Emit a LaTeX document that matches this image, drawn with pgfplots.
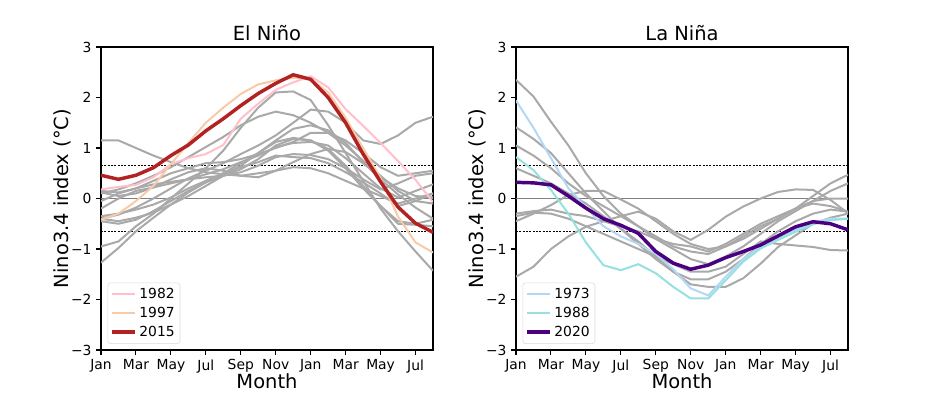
\documentclass[border=0pt]{standalone}
\usepackage{fontspec}
\setmainfont{DejaVu Sans}
\usepackage{pgfplots}
\pgfplotsset{compat=1.18}
\definecolor{lgray}{HTML}{A9A9A9}
\definecolor{c82}{HTML}{FFC0CB}
\definecolor{c97}{HTML}{F7CBA8}
\definecolor{c15}{HTML}{B22222}
\definecolor{c73}{HTML}{B3D7F5}
\definecolor{c88}{HTML}{96E0E0}
\definecolor{c20}{HTML}{4B0082}
\definecolor{zline}{HTML}{808080}
\newcommand{\ser}[2]{\addplot[#1] table[row sep=\\, header=false, x expr=\coordindex, y index=0] {#2\\};}
\pgfplotsset{enso/.style={
  scale only axis, width=249pt, height=227.25pt,
  xmin=0, xmax=19, ymin=-3, ymax=3,
  xtick={0,2,...,18}, xticklabels={Jan,Mar,May,Jul,Sep,Nov,Jan,Mar,May,Jul},
  ytick={-3,-2,-1,0,1,2,3}, yticklabels={−3,−2,−1,0,1,2,3},
  tick align=outside, tick pos=left, major tick length=3.6pt,
  tick label style={font=\fontsize{10.4}{12}\selectfont},
  label style={font=\fontsize{14.6}{17}\selectfont},
  title style={font=\fontsize{14.6}{17}\selectfont, yshift=-5pt},
  xlabel=Month, ylabel={Nino3.4 index (°C)},
  xlabel shift=-6pt, ylabel shift=-7pt,
  axis line style={line width=0.8pt},
  every tick/.style={black, line width=0.8pt},
  legend style={at={(0.02,0.02)}, anchor=south west, font=\fontsize{10.4}{12}\selectfont,
     draw=black!15, rounded corners=2pt, inner sep=2pt, row sep=1pt},
  legend cell align=left,
  legend image code/.code={\draw[#1] (0pt,0pt) -- (17pt,0pt);},
  gr/.style={lgray, line width=1.5pt, forget plot},
}}
\begin{document}
\begin{tikzpicture}
\useasboundingbox (0pt,0pt) rectangle (708pt,294.75pt);
\begin{axis}[enso, at={(75.75pt,32.25pt)}, anchor=south west, title={El Niño}]
\addplot[zline, line width=0.9pt, forget plot] coordinates {(0,0) (19,0)};
\addplot[black, line width=0.4pt, dash pattern=on 1.5pt off 1pt, forget plot] coordinates {(0,0.65) (19,0.65)};
\addplot[black, line width=0.4pt, dash pattern=on 1.5pt off 1pt, forget plot] coordinates {(0,-0.65) (19,-0.65)};
\ser{gr}{-0.95\\-0.85\\-0.55\\-0.3\\0.0\\0.3\\0.6\\0.95\\1.4\\1.8\\2.1\\2.12\\1.95\\1.45\\0.9\\0.35\\-0.2\\-0.65\\-1.05\\-1.43}
\ser{gr}{-1.27\\-0.98\\-0.65\\-0.38\\-0.12\\0.12\\0.32\\0.5\\0.7\\0.9\\1.12\\1.2\\1.15\\0.95\\0.6\\0.2\\-0.15\\-0.45\\-0.5\\-0.42}
\ser{gr}{1.15\\1.15\\1.0\\0.85\\0.72\\0.6\\0.52\\0.48\\0.45\\0.5\\0.55\\0.62\\0.6\\0.5\\0.35\\0.2\\0.05\\-0.1\\0.0\\0.1}
\ser{gr}{-0.4\\-0.32\\-0.18\\0.0\\0.2\\0.4\\0.55\\0.7\\0.88\\1.05\\1.25\\1.5\\1.76\\1.72\\1.5\\1.15\\1.08\\1.25\\1.5\\1.62}
\ser{gr}{0.1\\0.18\\0.3\\0.45\\0.62\\0.82\\1.02\\1.22\\1.45\\1.62\\1.72\\1.65\\1.5\\1.3\\1.05\\0.75\\0.45\\0.15\\-0.05\\-0.1}
\ser{gr}{0.15\\0.12\\0.2\\0.35\\0.5\\0.6\\0.7\\0.72\\0.78\\0.88\\1.0\\1.12\\1.3\\1.3\\1.15\\0.9\\0.62\\0.45\\0.5\\0.55}
\ser{gr}{-0.05\\0.1\\0.2\\0.28\\0.33\\0.38\\0.42\\0.45\\0.52\\0.65\\0.82\\0.88\\0.86\\0.78\\0.6\\0.38\\0.18\\0.3\\0.45\\0.5}
\ser{gr}{-0.4\\-0.45\\-0.38\\-0.28\\-0.12\\0.05\\0.25\\0.45\\0.65\\0.9\\1.15\\1.38\\1.45\\1.35\\1.1\\0.72\\0.38\\0.08\\-0.18\\-0.4}
\ser{gr}{-0.2\\0.0\\0.15\\0.22\\0.3\\0.38\\0.48\\0.58\\0.72\\0.85\\1.02\\1.1\\1.12\\1.05\\0.8\\0.5\\0.2\\0.02\\0.15\\0.28}
\ser{gr}{-0.35\\-0.3\\-0.22\\-0.12\\0.02\\0.2\\0.35\\0.5\\0.62\\0.72\\0.85\\0.82\\0.8\\0.7\\0.52\\0.32\\0.1\\-0.15\\-0.05\\0.1}
\ser{gr}{-0.45\\-0.5\\-0.42\\-0.25\\-0.05\\0.15\\0.32\\0.45\\0.58\\0.78\\1.05\\1.18\\1.15\\0.98\\0.65\\0.25\\-0.15\\-0.5\\-0.52\\-0.55}
\ser{gr}{0.12\\0.05\\0.1\\0.22\\0.38\\0.52\\0.6\\0.55\\0.45\\0.42\\0.55\\0.72\\0.88\\0.98\\0.92\\0.7\\0.42\\0.2\\0.05\\0.02}
\ser{c82, line width=1.5pt}{0.18\\0.23\\0.27\\0.42\\0.68\\0.8\\0.88\\1.06\\1.58\\1.88\\2.15\\2.3\\2.42\\2.2\\1.77\\1.44\\1.1\\0.74\\0.37\\-0.07}
\addlegendentry{1982}
\ser{c97, line width=1.5pt}{-0.42\\-0.3\\-0.05\\0.25\\0.68\\1.1\\1.5\\1.8\\2.07\\2.26\\2.34\\2.39\\2.37\\2.1\\1.6\\1.0\\0.4\\-0.36\\-0.87\\-1.07}
\addlegendentry{1997}
\ser{c15, line width=2.6pt}{0.46\\0.38\\0.46\\0.61\\0.85\\1.06\\1.34\\1.58\\1.84\\2.08\\2.28\\2.45\\2.36\\2.0\\1.5\\0.88\\0.33\\-0.17\\-0.49\\-0.67}
\addlegendentry{2015}
\end{axis}
\begin{axis}[enso, at={(387pt,32.25pt)}, anchor=south west, title={La Niña}]
\addplot[zline, line width=0.9pt, forget plot] coordinates {(0,0) (19,0)};
\addplot[black, line width=0.4pt, dash pattern=on 1.5pt off 1pt, forget plot] coordinates {(0,0.65) (19,0.65)};
\addplot[black, line width=0.4pt, dash pattern=on 1.5pt off 1pt, forget plot] coordinates {(0,-0.65) (19,-0.65)};
\ser{gr}{2.35\\2.02\\1.52\\1.05\\0.5\\0.05\\-0.3\\-0.55\\-0.8\\-1.0\\-1.2\\-1.3\\-1.15\\-0.95\\-0.7\\-0.45\\-0.25\\-0.05\\0.15\\0.3}
\ser{gr}{1.41\\1.18\\0.9\\0.5\\0.1\\-0.25\\-0.6\\-0.9\\-1.2\\-1.45\\-1.6\\-1.6\\-1.45\\-1.2\\-0.9\\-0.65\\-0.45\\-0.3\\-0.22\\-0.26}
\ser{gr}{1.05\\0.85\\0.6\\0.3\\0.05\\-0.15\\-0.35\\-0.55\\-0.75\\-0.95\\-1.05\\-1.1\\-0.95\\-0.75\\-0.55\\-0.4\\-0.2\\0.05\\0.3\\0.47}
\ser{gr}{0.6\\0.45\\0.3\\0.1\\-0.1\\-0.35\\-0.6\\-0.85\\-1.15\\-1.45\\-1.7\\-1.75\\-1.75\\-1.58\\-1.29\\-0.96\\-0.73\\-0.5\\-0.38\\-0.3}
\ser{gr}{-0.45\\-0.3\\-0.13\\0.07\\0.15\\0.15\\-0.02\\-0.2\\-0.45\\-0.7\\-0.9\\-1.0\\-0.95\\-0.8\\-0.6\\-0.4\\-0.2\\-0.05\\0.0\\0.0}
\ser{gr}{-0.3\\-0.25\\-0.22\\-0.3\\-0.35\\-0.45\\-0.55\\-0.65\\-0.8\\-0.9\\-0.95\\-1.05\\-0.9\\-0.7\\-0.5\\-0.35\\-0.2\\-0.1\\-0.15\\-0.26}
\ser{gr}{-1.55\\-1.35\\-1.0\\-0.75\\-0.56\\-0.45\\-0.35\\-0.26\\-0.4\\-0.65\\-0.82\\-0.62\\-0.36\\-0.16\\0.0\\0.13\\0.18\\0.17\\-0.03\\-0.29}
\ser{gr}{-0.35\\-0.28\\-0.3\\-0.4\\-0.55\\-0.7\\-0.85\\-1.0\\-1.15\\-1.3\\-1.45\\-1.45\\-1.35\\-1.1\\-0.85\\-0.9\\-0.93\\-0.96\\-1.02\\-1.03}
\ser{c73, line width=1.5pt}{1.94\\1.4\\0.8\\0.2\\-0.17\\-0.55\\-0.75\\-0.9\\-1.1\\-1.4\\-1.78\\-1.92\\-1.55\\-1.2\\-0.95\\-0.78\\-0.62\\-0.47\\-0.4\\-0.4}
\addlegendentry{1973}
\ser{c88, line width=1.5pt}{0.82\\0.56\\0.17\\-0.3\\-0.87\\-1.32\\-1.42\\-1.3\\-1.48\\-1.75\\-1.98\\-1.98\\-1.62\\-1.25\\-0.99\\-0.82\\-0.66\\-0.51\\-0.43\\-0.4}
\addlegendentry{1988}
\ser{c20, line width=2.6pt}{0.32\\0.31\\0.27\\0.05\\-0.19\\-0.4\\-0.53\\-0.69\\-1.05\\-1.28\\-1.4\\-1.32\\-1.17\\-1.05\\-0.92\\-0.74\\-0.56\\-0.46\\-0.5\\-0.62}
\addlegendentry{2020}
\end{axis}
\end{tikzpicture}
\end{document}
